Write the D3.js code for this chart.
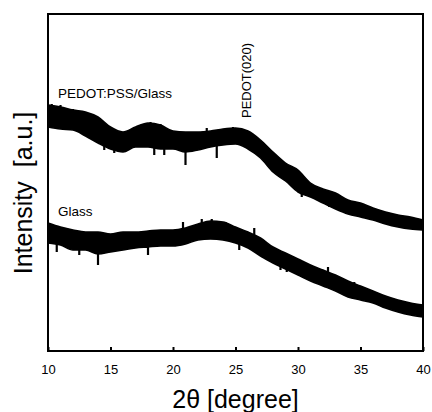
<!DOCTYPE html>
<html>
<head>
<meta charset="utf-8">
<script src="https://cdn.jsdelivr.net/npm/d3@7"></script>
<style>
  body { margin: 0; background: #fff; }
  text { font-family: "Liberation Sans", Arial, sans-serif; }
</style>
</head>
<body>
<div id="chart"></div>
<script>
// 2theta positions (degree), one reading per degree
const twoTheta = [10,11,12,13,14,15,16,17,18,19,20,21,22,23,24,25,26,27,28,29,30,31,32,33,34,35,36,37,38,39,40];

// PEDOT:PSS/Glass - centre of the noisy trace and half spread of the noise (a.u.)
const pedotCenter = [235,233,231,227,221,213,209,214,216,214,211,209,210,212,214,215,211,202,189,179,170,161,155,150,144,141,137,133,130,128,126];
const pedotSpread = [11,11,10,12,13,11,10,10,12,12,9,10,9,8,8,8,9,9,10,9,11,7,7,8,7,7,6,6,6,6,5];
// strongest noise spikes of that trace: [2theta, tip intensity]
const pedotSpikes = [[10.3,247],[11.0,246],[12.0,242],[12.6,239],[14.5,201],[15.3,198],[17.5,227],[18.2,229],[18.5,196],
                     [19.0,227],[19.3,196],[21.0,186],[22.7,223],[23.5,193],[24.8,224],[30.3,154],[32.5,144],[33.5,139],[34.0,139]];

// Glass - centre and spread (a.u.)
const glassCenter = [118,115,111,110,108,108,110,111,112,113,113,115,119,121,120,116,111,104,96,90,84,78,73,68,62,58,54,49,45,42,40];
const glassSpread = [10,9,10,9,11,9,9,8,8,8,8,8,8,9,9,8,8,9,8,8,8,8,8,8,8,7,6,6,6,6,6];
const glassSpikes = [[10.7,99],[12.5,96],[14.0,86],[18.0,96],[20.8,129],[22.3,132],[23.1,132],[24.2,129],[25.3,101],
                     [26.5,123],[27.2,93],[28.6,81],[29.1,79],[32.4,84],[34.5,69]];

const xTicks = [10,15,20,25,30,35,40];

function drawChart() {
    let win_width = 432;
    let win_height = 412;
    let margin = {top: 14, right: 9, bottom: 61, left: 48};
    let width = win_width - margin.left - margin.right;
    let height = win_height - margin.top - margin.bottom;

    let svg = d3.select("#chart")
        .append("svg")
        .attr("width", win_width)
        .attr("height", win_height);

    let g = svg.append("g")
        .attr("transform", "translate(" + margin.left + "," + margin.top + ")");

    let x = d3.scaleLinear().domain([10, 40]).range([0, width]);
    let y = d3.scaleLinear().domain([0, 337]).range([height, 0]);

    let series = [
        {name: "PEDOT:PSS/Glass", c: pedotCenter, s: pedotSpread, spikes: pedotSpikes},
        {name: "Glass", c: glassCenter, s: glassSpread, spikes: glassSpikes}
    ];

    let area = d3.area()
        .x(d => x(d.t))
        .y0(d => y(d.v - d.s))
        .y1(d => y(d.v + d.s))
        .curve(d3.curveMonotoneX);

    series.forEach(function(sr) {
        let pts = twoTheta.map((t, i) => ({t: t, v: sr.c[i], s: sr.s[i]}));
        g.append("path")
            .datum(pts)
            .attr("d", area)
            .attr("fill", "#000")
            .attr("stroke", "#000")
            .attr("stroke-width", 1.5)
            .attr("stroke-linejoin", "round");

        // noise spikes, from the trace centre out to the read tip
        let centreAt = d3.scaleLinear().domain(twoTheta).range(sr.c);
        g.append("g")
            .selectAll("line")
            .data(sr.spikes)
            .enter()
            .append("line")
            .attr("x1", d => x(d[0]))
            .attr("x2", d => x(d[0]))
            .attr("y1", d => y(centreAt(d[0])))
            .attr("y2", d => y(d[1]))
            .attr("stroke", "#000")
            .attr("stroke-width", 2.2);
    });

    // frame
    g.append("rect")
        .attr("width", width)
        .attr("height", height)
        .attr("fill", "none")
        .attr("stroke", "#000")
        .attr("stroke-width", 2);

    // x axis, ticks pointing inward
    let xAxis = g.append("g")
        .attr("transform", "translate(0," + height + ")")
        .call(d3.axisBottom(x).tickValues(xTicks).tickSizeInner(-4).tickSizeOuter(0).tickPadding(14));
    xAxis.select(".domain").remove();
    xAxis.selectAll(".tick line").attr("stroke-width", 2);
    xAxis.selectAll("text")
        .style("font-size", "13px")
        .style("font-family", "Liberation Sans, Arial, sans-serif");

    svg.append("text")
        .attr("x", margin.left + width / 2)
        .attr("y", 408)
        .attr("text-anchor", "middle")
        .style("font-size", "25px")
        .text("2θ [degree]");

    svg.append("text")
        .attr("transform", "translate(32," + (margin.top + 179) + ") rotate(-90)")
        .attr("text-anchor", "middle")
        .attr("xml:space", "preserve")
        .style("font-size", "25px")
        .text("Intensity  [a.u.]");

    // labels
    g.append("text")
        .attr("x", x(10.8))
        .attr("y", y(253))
        .style("font-size", "13.5px")
        .text("PEDOT:PSS/Glass");

    g.append("text")
        .attr("x", x(10.8))
        .attr("y", y(135))
        .style("font-size", "13.5px")
        .text("Glass");

    g.append("text")
        .attr("transform", "translate(" + (x(25) + 15) + "," + y(233) + ") rotate(-90)")
        .style("font-size", "13px")
        .text("PEDOT(020)");
}
drawChart();
</script>
</body>
</html>
